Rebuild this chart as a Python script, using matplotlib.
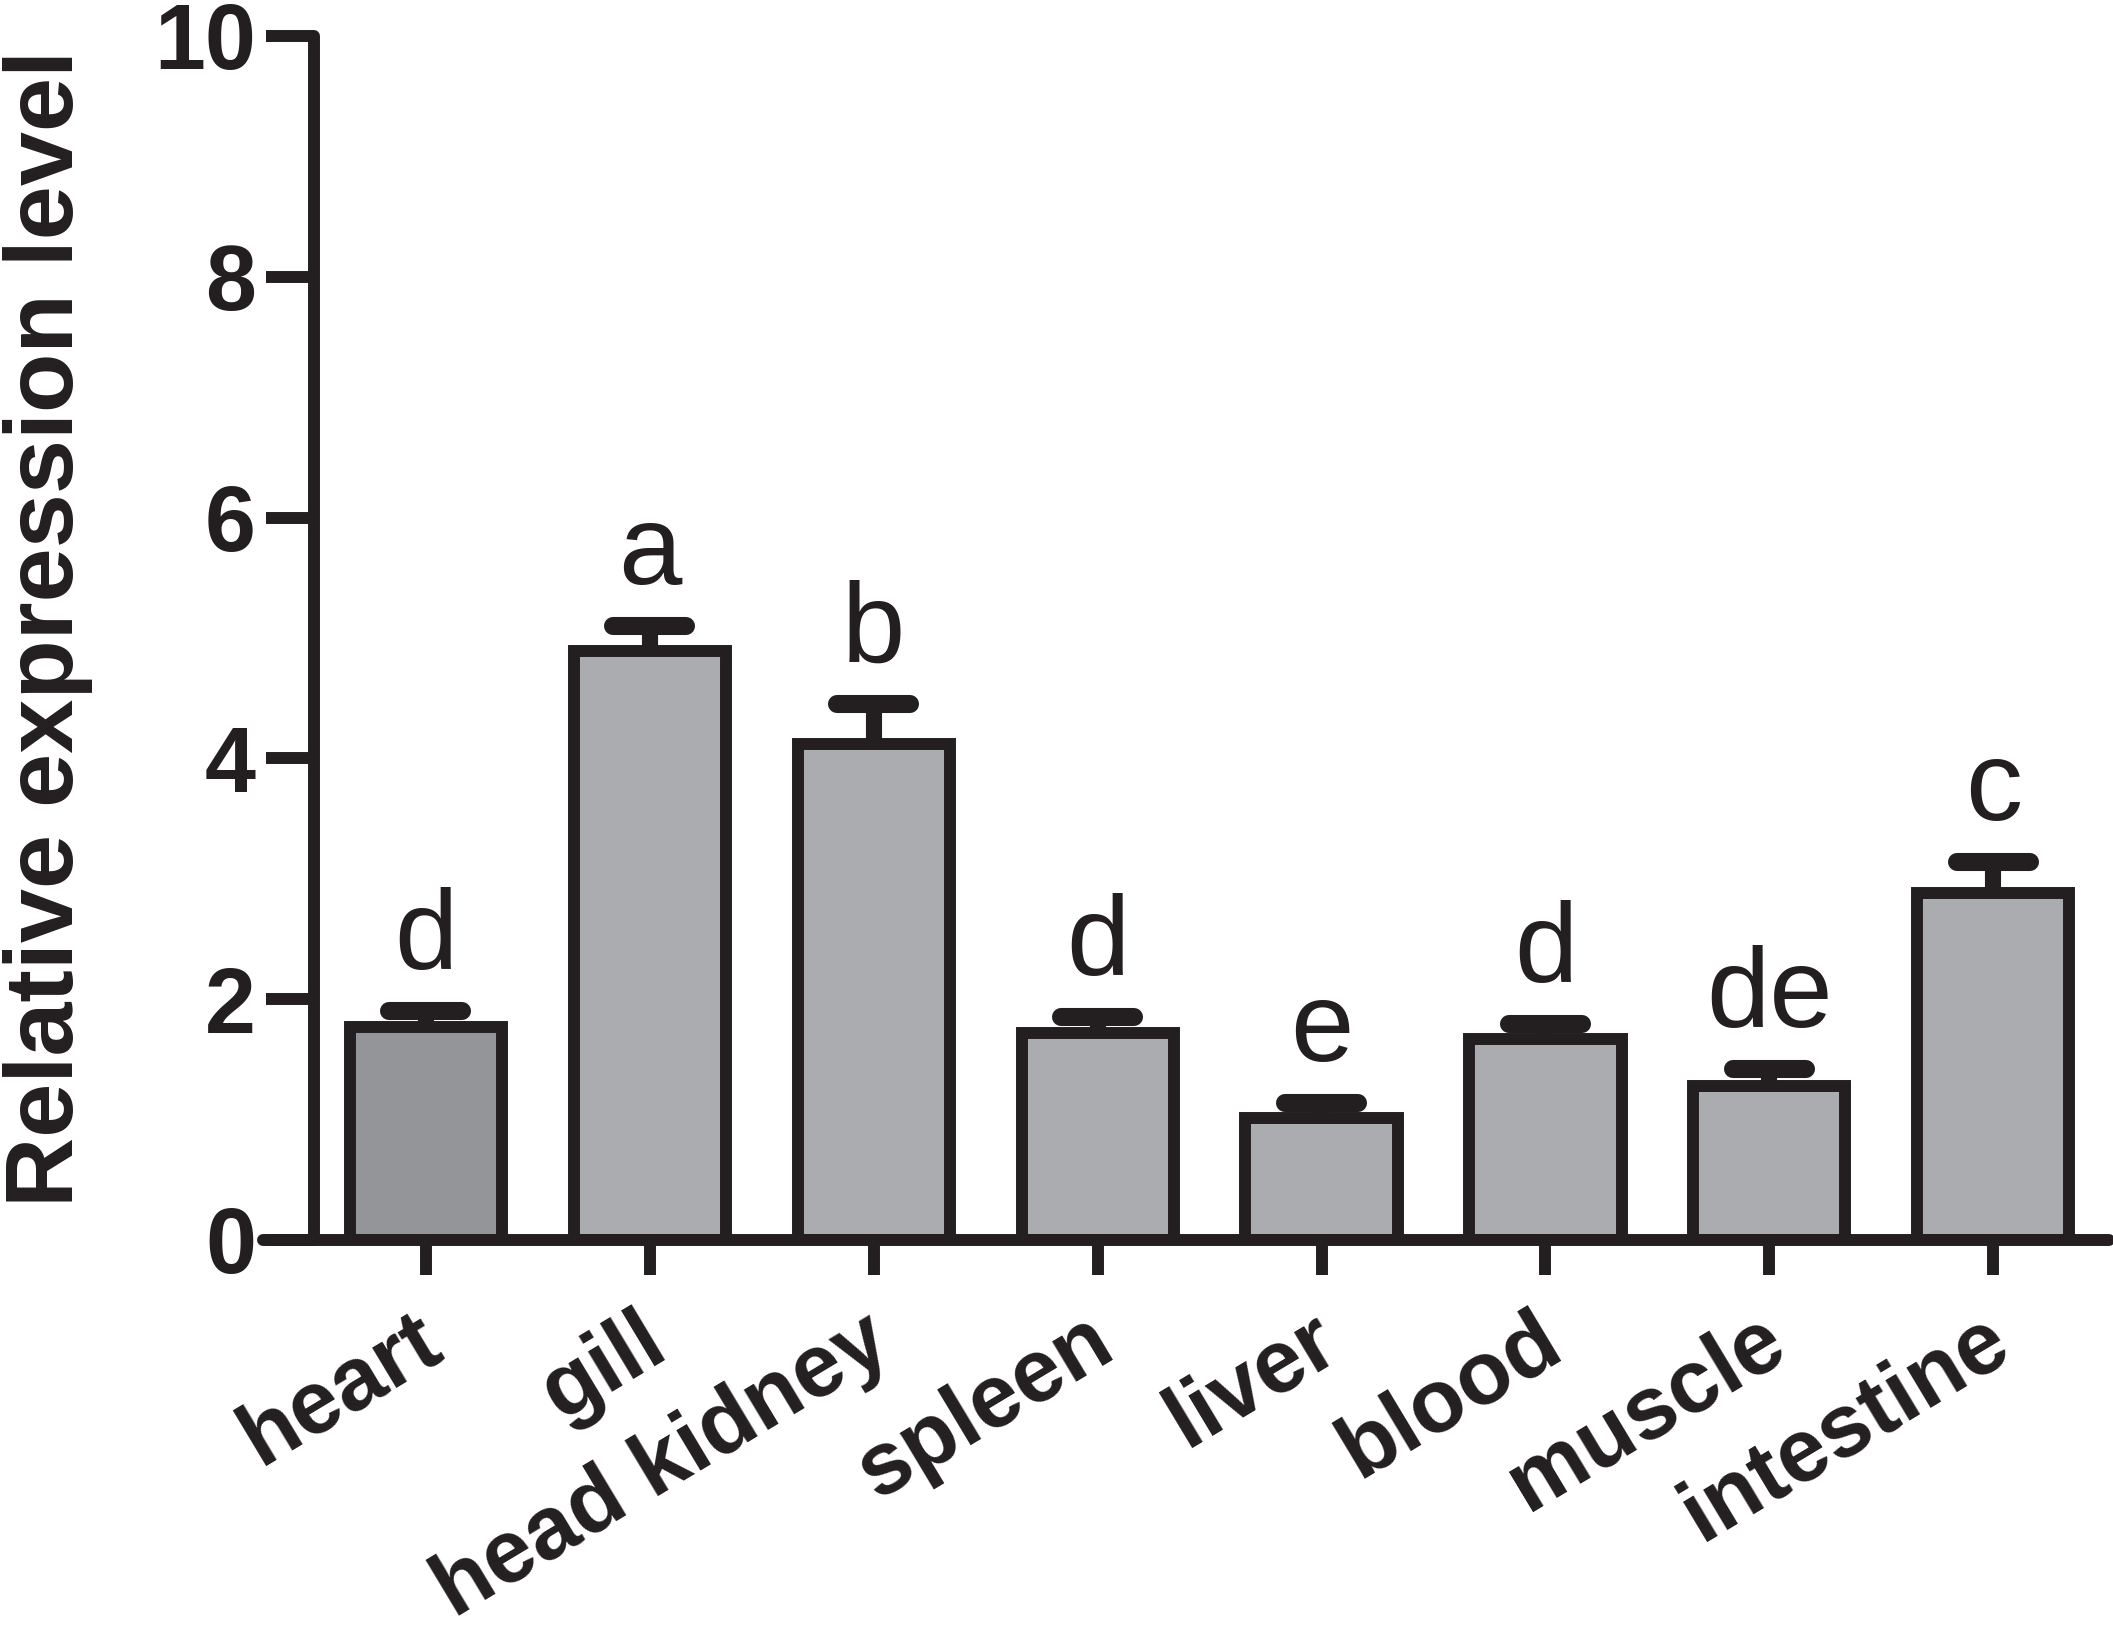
import matplotlib
matplotlib.use("Agg")
import matplotlib.pyplot as plt
import matplotlib.transforms as mtransforms
import numpy as np

tissues = ["heart", "gill", "head kidney", "spleen", "liver", "blood", "muscle", "intestine"]
means = [1.77, 4.89, 4.12, 1.72, 1.01, 1.67, 1.28, 2.88]
errors = [0.13, 0.21, 0.33, 0.13, 0.13, 0.12, 0.14, 0.26]
letters = ["d", "a", "b", "d", "e", "d", "de", "c"]
yticks = [0, 2, 4, 6, 8, 10]

plt.rcParams['font.family'] = ['Liberation Sans', 'DejaVu Sans']
INK = "#231f20"
fill_colors = ["#939598"] + ["#abacb0"] * (len(tissues) - 1)
DPI = 200

fig = plt.figure(figsize=(2113 / DPI, 1638 / DPI), dpi=DPI)
ax = fig.add_axes([263 / 2113, 1 - 1240 / 1638, (2109 - 263) / 2113, (1240 - 36) / 1638])

x = np.arange(len(tissues))
ax.bar(x, means, width=0.68, color=fill_colors, edgecolor=INK, linewidth=4.3, zorder=2)
tops = np.array(means) + np.array(errors)
ax.vlines(x, means, tops, colors=INK, linewidth=5.8, zorder=3)
caps = ax.hlines(tops, x - 0.163, x + 0.163, colors=INK, linewidth=6.5, zorder=3)
caps.set_capstyle('round')

for xi, t, lab in zip(x, tops, letters):
    ax.text(xi, t + 0.35, lab, ha='center', va='baseline', fontsize=41, color=INK, zorder=4)

ax.set_xlim(-0.728, 7.517)
ax.set_ylim(0, 10)

for s in ['top', 'right']:
    ax.spines[s].set_visible(False)
ax.spines['left'].set_position(('data', -0.5))
for s in ['left', 'bottom']:
    ax.spines[s].set_linewidth(4.3)
    ax.spines[s].set_color(INK)
    ax.spines[s].set_capstyle('round')
    ax.spines[s].set_zorder(5)

ax.set_yticks(yticks)
ax.set_yticklabels([str(v) for v in yticks])
ax.tick_params(axis='y', direction='out', length=17.3, width=4.3, color=INK, pad=3.6,
               labelsize=33, labelcolor=INK)
for lbl in ax.get_yticklabels():
    lbl.set_fontweight('bold')
for tl in ax.yaxis.get_ticklines():
    tl.set_solid_capstyle('round')

ax.set_xticks(x)
ax.set_xticklabels(tissues)
ax.tick_params(axis='x', direction='out', length=12.6, width=4.3, color=INK, pad=33.5,
               labelsize=32, labelcolor=INK)
offset = mtransforms.ScaledTranslation(7.5 / 72, 0, fig.dpi_scale_trans)
xlabels = ax.get_xticklabels()
for lbl in xlabels:
    lbl.set_fontweight('bold')
    lbl.set_rotation(31)
    lbl.set_rotation_mode('anchor')
    lbl.set_ha('right')
    lbl.set_va('baseline')
    lbl.set_transform(lbl.get_transform() + offset)

# keep the rotated labels' boxes inside the figure
fig.canvas.draw()
renderer = fig.canvas.get_renderer()
min_y = min(l.get_window_extent(renderer).y0 for l in ax.get_xticklabels())
if min_y < 3:
    lift = mtransforms.ScaledTranslation(0, (3 - min_y) / DPI, fig.dpi_scale_trans)
    for lbl in ax.get_xticklabels():
        lbl.set_transform(lbl.get_transform() + lift)

fig.text(73 / 2113, 1 - 628 / 1638, "Relative expression level", rotation=90,
         rotation_mode='anchor', ha='center', va='baseline', fontsize=35,
         fontweight='bold', color=INK)

fig.savefig("out.png", dpi=DPI, facecolor='white')
